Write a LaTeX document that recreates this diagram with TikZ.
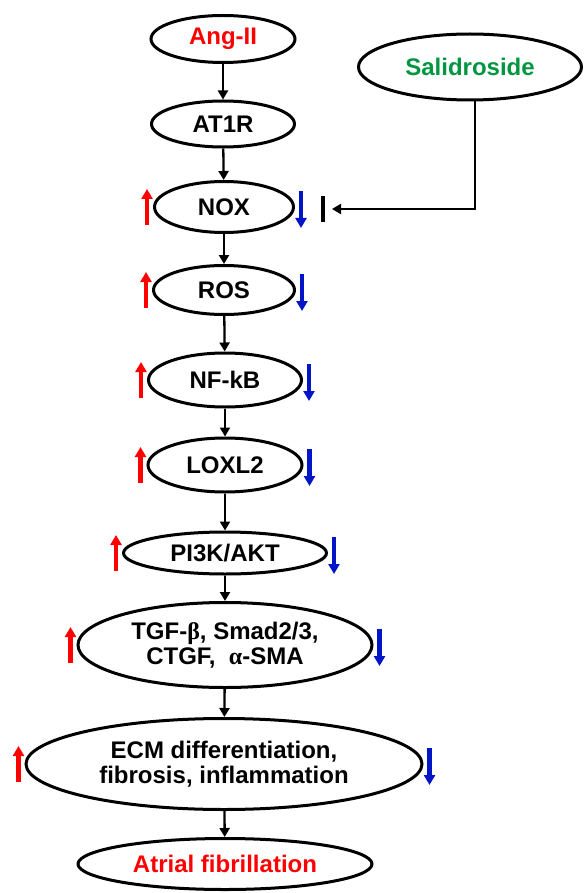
\documentclass[tikz,border=0pt]{standalone}
\usepackage{fontspec}
\setmainfont{Liberation Sans}
\newfontfamily\grk{Liberation Serif}
\usetikzlibrary{shapes.geometric,arrows.meta}
\definecolor{afred}{RGB}{255,0,0}
\definecolor{salgreen}{RGB}{0,150,64}
\definecolor{downblue}{RGB}{0,20,200}
\begin{document}
\begin{tikzpicture}[x=1pt,y=-1pt,
  oval/.style={ellipse,draw=black,line width=3pt,inner sep=0pt,align=center,
    font=\fontsize{24}{25}\selectfont\bfseries},
  arr/.style={line width=2.3pt,-{Triangle[width=10pt,length=9pt]}},
  uparr/.style={draw=afred,line width=4.2pt,-{Triangle[width=11pt,length=10pt]}},
  downarr/.style={draw=downblue,line width=4.2pt,-{Triangle[width=11pt,length=10pt]}},
  blockbar/.style={line width=3.6pt}]
\useasboundingbox (0,0) rectangle (584,893);

% pathway chain
\node[oval,minimum width=144pt,minimum height=47pt,text=afred] (ang) at (223,39) {Ang-II};
\node[oval,minimum width=143pt,minimum height=46pt] (at1r) at (223,124) {AT1R};
\node[oval,minimum width=139pt,minimum height=51pt] (nox) at (224,207) {NOX};
\node[oval,minimum width=141pt,minimum height=49pt] (ros) at (224,290) {ROS};
\node[oval,minimum width=153pt,minimum height=54pt] (nfkb) at (225,380) {NF-kB};
\node[oval,minimum width=154pt,minimum height=54pt] (loxl) at (225,465) {LOXL2};
\node[oval,minimum width=203pt,minimum height=42pt] (pik) at (225,553) {PI3K/AKT};
\node[oval,minimum width=294pt,minimum height=85pt] (tgf) at (225,645)
  {TGF-{\grk\bfseries β}, Smad2/3,\\CTGF,\ \ {\grk\bfseries α}-SMA};
\node[oval,minimum width=396pt,minimum height=91pt] (ecm) at (224,764)
  {ECM differentiation,\\fibrosis, inflammation};
\node[oval,minimum width=294pt,minimum height=51pt,text=afred] (af) at (225,864) {Atrial fibrillation};

% drug
\node[oval,minimum width=223pt,minimum height=66pt,text=salgreen] (sal) at (470,67) {Salidroside};

% downstream arrows
\draw[arr] (ang) -- (at1r);
\draw[arr] (at1r) -- (nox);
\draw[arr] (nox) -- (ros);
\draw[arr] (ros) -- (nfkb);
\draw[arr] (nfkb) -- (loxl);
\draw[arr] (loxl) -- (pik);
\draw[arr] (pik) -- (tgf);
\draw[arr] (tgf) -- (ecm);
\draw[arr] (ecm) -- (af);

% inhibition of NOX by salidroside
\coordinate (inh) at (323,209);
\draw[arr] ([xshift=5pt]sal.south) |- ([xshift=9pt]inh);
\draw[blockbar] ([yshift=13pt]inh) -- ([yshift=-13pt]inh);

% up / down regulation marks
\foreach \n in {nox,ros,nfkb,loxl,pik,tgf,ecm}{
  \draw[uparr] ([xshift=-6pt,yshift=-18pt]\n.west) -- ([xshift=-6pt,yshift=18pt]\n.west);
  \draw[downarr] ([xshift=6pt,yshift=16pt]\n.east) -- ([xshift=6pt,yshift=-21pt]\n.east);
}
\end{tikzpicture}
\end{document}
